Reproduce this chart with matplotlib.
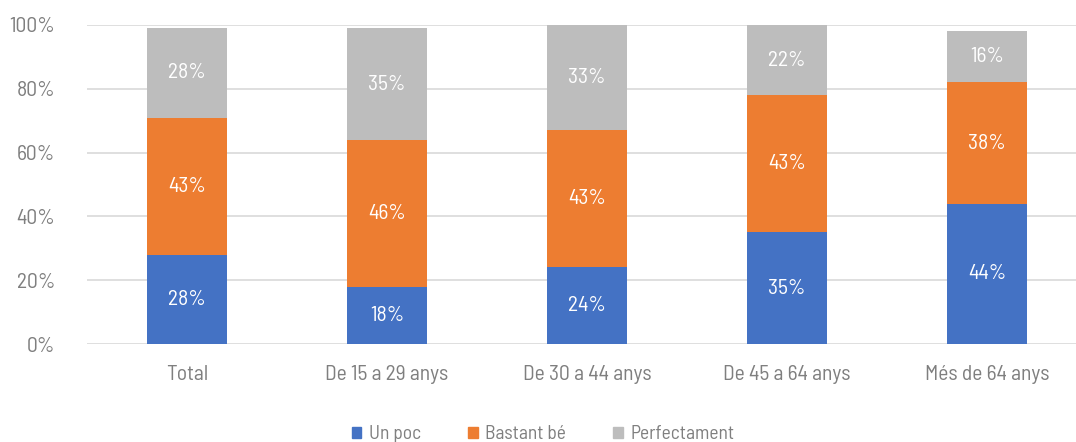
import matplotlib.pyplot as plt
from matplotlib.patches import Patch

plt.rcParams['font.family'] = ['Barlow Semi Condensed', 'Barlow Condensed', 'DejaVu Sans']

# Dades
categories = ["Total", "De 15 a 29 anys", "De 30 a 44 anys", "De 45 a 64 anys", "Més de 64 anys"]
un_poc = [28, 18, 24, 35, 44]
bastant_be = [43, 46, 43, 43, 38]
perfectament = [28, 35, 33, 22, 16]

series = [("Un poc", un_poc, "#4472C4"),
          ("Bastant bé", bastant_be, "#ED7D31"),
          ("Perfectament", perfectament, "#BDBDBD")]

fig = plt.figure(figsize=(10.76, 4.42), dpi=100)
ax = fig.add_axes([87 / 1076, 98 / 442, 1000 / 1076, 319 / 442])

x = range(len(categories))
bottom = [0] * len(categories)
for name, vals, color in series:
    ax.bar(x, vals, bottom=bottom, width=0.4, color=color, label=name, zorder=3)
    for i, v in enumerate(vals):
        ax.text(i, bottom[i] + v / 2, f"{v}%", ha="center", va="center",
                color="white", fontsize=15.5, zorder=4)
    bottom = [b + v for b, v in zip(bottom, vals)]

ax.set_xlim(-0.5, 4.5)
ax.set_ylim(0, 100)
ax.set_yticks(range(0, 101, 20))
ax.set_yticklabels([f"{t}%" for t in range(0, 101, 20)])
ax.set_xticks(list(x))
ax.set_xticklabels(categories)
ax.tick_params(axis="both", length=0, labelsize=15.5, colors="#7F7F7F")
ax.tick_params(axis="x", pad=15)
ax.tick_params(axis="y", pad=23)
ax.grid(axis="y", color="#D9D9D9", linewidth=1.2, zorder=0)
for s in ax.spines.values():
    s.set_visible(False)

handles = [Patch(color=c, label=n) for n, _, c in series]
leg = fig.legend(handles=handles, loc="center", bbox_to_anchor=(543 / 1076, 1 - 434 / 442),
                 ncol=3, frameon=False, fontsize=14, handlelength=0.5, handleheight=0.5,
                 handletextpad=0.4, columnspacing=2.4)
for t in leg.get_texts():
    t.set_color("#7F7F7F")

fig.savefig("out.png", dpi=100)
